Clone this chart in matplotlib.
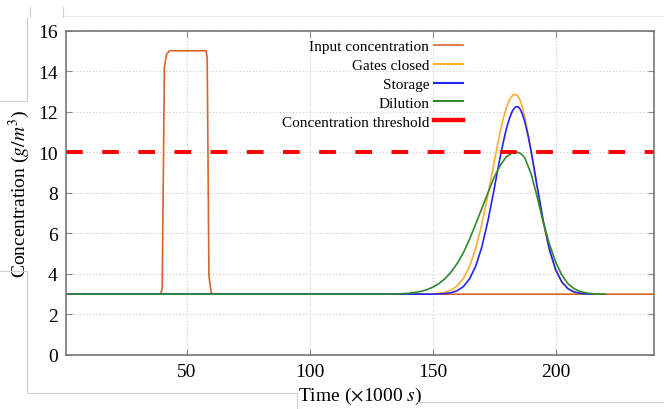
import matplotlib
matplotlib.use("Agg")
import matplotlib.pyplot as plt
from matplotlib.lines import Line2D

# values (time in 1000 s, concentration in g/m^3)
t_input = [1, 39.3, 40.1, 41.0, 41.8, 43.0, 58.0, 58.4, 59.1, 60.0, 60.6, 240]
c_input = [3.0, 3.0, 3.25, 14.2, 14.8, 15.0, 15.0, 14.6, 3.9, 3.1, 3.0, 3.0]

t_gates = [1, 140, 145, 147.5, 150, 152.5, 155, 157.5, 160, 162.5, 165, 167.5, 170,
           172.5, 175, 176.25, 177.5, 178.75, 180, 181.25, 182.5, 183.5, 184.5, 185.5,
           186.5, 187.5, 188.75, 190, 191.25, 192.5, 195, 197.5,
           200, 202.5, 205, 207.5, 210, 212.5, 215]
c_gates = [3.0, 3.0, 3.0, 3.01, 3.02, 3.04, 3.09, 3.20, 3.41, 3.77, 4.36, 5.25, 6.44,
           7.90, 9.49, 10.27, 11.01, 11.66, 12.19, 12.57, 12.80, 12.86, 12.79, 12.58,
           12.23, 11.70, 10.95, 10.09, 9.17, 8.24, 6.51, 5.13,
           4.18, 3.59, 3.27, 3.11, 3.04, 3.01, 3.0]

t_storage = [1, 140, 145, 150, 152.5, 155, 157.5, 160, 162.5, 165, 167.5, 170, 172.5,
             175, 176.25, 177.5, 178.75, 180, 181.25, 182.5, 183.5, 184.3, 185.2, 186.2,
             187.5, 188.75, 190, 191.25, 192.5, 195, 197.5, 200,
             202.5, 205, 207.5, 210, 212.5, 215]
c_storage = [3.0, 3.0, 3.0, 3.0, 3.01, 3.03, 3.07, 3.17, 3.37, 3.75, 4.37, 5.32, 6.61,
             8.16, 8.98, 9.77, 10.50, 11.16, 11.67, 12.05, 12.21, 12.25, 12.20, 11.98,
             11.50, 10.85, 10.08, 9.22, 8.32, 6.61, 5.21, 4.22,
             3.61, 3.27, 3.11, 3.04, 3.01, 3.0]

t_dilution = [1, 130, 135, 140, 142.5, 145, 147.5, 150, 152.5, 155, 157.5, 160, 162.5,
              165, 167.5, 170, 172.5, 175, 177.5, 180, 182.5, 184.5, 186, 187.5, 190,
              192.5, 195, 197.5, 200, 202.5, 205, 207.5, 210, 212.5, 215, 217.5, 220]
c_dilution = [3.0, 3.0, 3.01, 3.04, 3.08, 3.13, 3.21, 3.34, 3.51, 3.76, 4.09, 4.51, 5.04,
              5.70, 6.45, 7.22, 8.00, 8.75, 9.35, 9.78, 9.97, 10.0, 9.92, 9.72, 8.95,
              7.80, 6.54, 5.47, 4.59, 3.95, 3.52, 3.27, 3.13, 3.06, 3.02, 3.01, 3.0]

threshold = 10
labels = ["Input concentration", "Gates closed", "Storage", "Dilution",
          "Concentration threshold"]
x_ticks = [50, 100, 150, 200]
y_ticks = [0, 2, 4, 6, 8, 10, 12, 14, 16]

col_input = "#d8642c"
col_gates = "#ffad33"
col_storage = "#2424f0"
col_dilution = "#2f8a2f"
col_thr = "#ff0000"

plt.rcParams["font.family"] = ["Liberation Serif", "DejaVu Serif"]
plt.rcParams["mathtext.fontset"] = "stix"

fig = plt.figure(figsize=(6.64, 4.10), dpi=100)
ax = fig.add_axes([66 / 664, 1 - 356 / 410, 588 / 664, 324.5 / 410])

ax.plot(t_input, c_input, color=col_input, lw=1.2)
ax.plot(t_gates, c_gates, color=col_gates, lw=1.2)
ax.plot(t_storage, c_storage, color=col_storage, lw=1.2)
ax.plot(t_dilution, c_dilution, color=col_dilution, lw=1.2)
ax.axhline(threshold, color=col_thr, lw=2.8, linestyle=(0, (4.3, 5.0)))

ax.set_xlim(1, 240)
ax.set_ylim(0, 16)
ax.set_xticks(x_ticks)
ax.set_yticks(y_ticks)
ax.tick_params(direction="in", length=4, width=0.8, color="#888888",
               top=True, right=True, labelsize=14, pad=6)
ax.grid(True, color="#c8c8c8", linestyle=(0, (1, 2)), lw=0.8)
for s in ax.spines.values():
    s.set_color("#777777")
    s.set_linewidth(1.2)

ax.set_ylabel("Concentration ($g/m^3$)", fontsize=14, labelpad=4)
ax.set_xlabel("Time ($\\times$1000 $s$)", fontsize=14, labelpad=3)

handles = [Line2D([], [], color=col_input, lw=1.2),
           Line2D([], [], color=col_gates, lw=1.5),
           Line2D([], [], color=col_storage, lw=1.5),
           Line2D([], [], color=col_dilution, lw=1.5),
           Line2D([], [], color=col_thr, lw=3.2)]
ax.legend(handles, labels, loc="upper right", bbox_to_anchor=(0.675, 0.972),
          frameon=False, markerfirst=False, fontsize=11, handlelength=1.9,
          handletextpad=0.3, labelspacing=0.335, borderpad=0, borderaxespad=0)


# light frame lines from the page the chart was cut out of
def page_line(xs, ys, color="#d0d0d0"):
    fig.add_artist(Line2D([x / 664 for x in xs], [1 - y / 410 for y in ys],
                          color=color, lw=0.8, transform=fig.transFigure))


page_line([27, 27], [18, 102])
page_line([0, 27], [102, 102])
page_line([0, 27], [272, 272])
page_line([27, 27], [272, 394])
page_line([27, 297], [394, 394])
page_line([297, 297], [394, 410])
page_line([418, 664], [403, 403])
page_line([63, 664], [17, 17], color="#ebebeb")
page_line([30, 30], [8, 18])
page_line([63, 63], [8, 18])

fig.savefig("out.png", dpi=100)
